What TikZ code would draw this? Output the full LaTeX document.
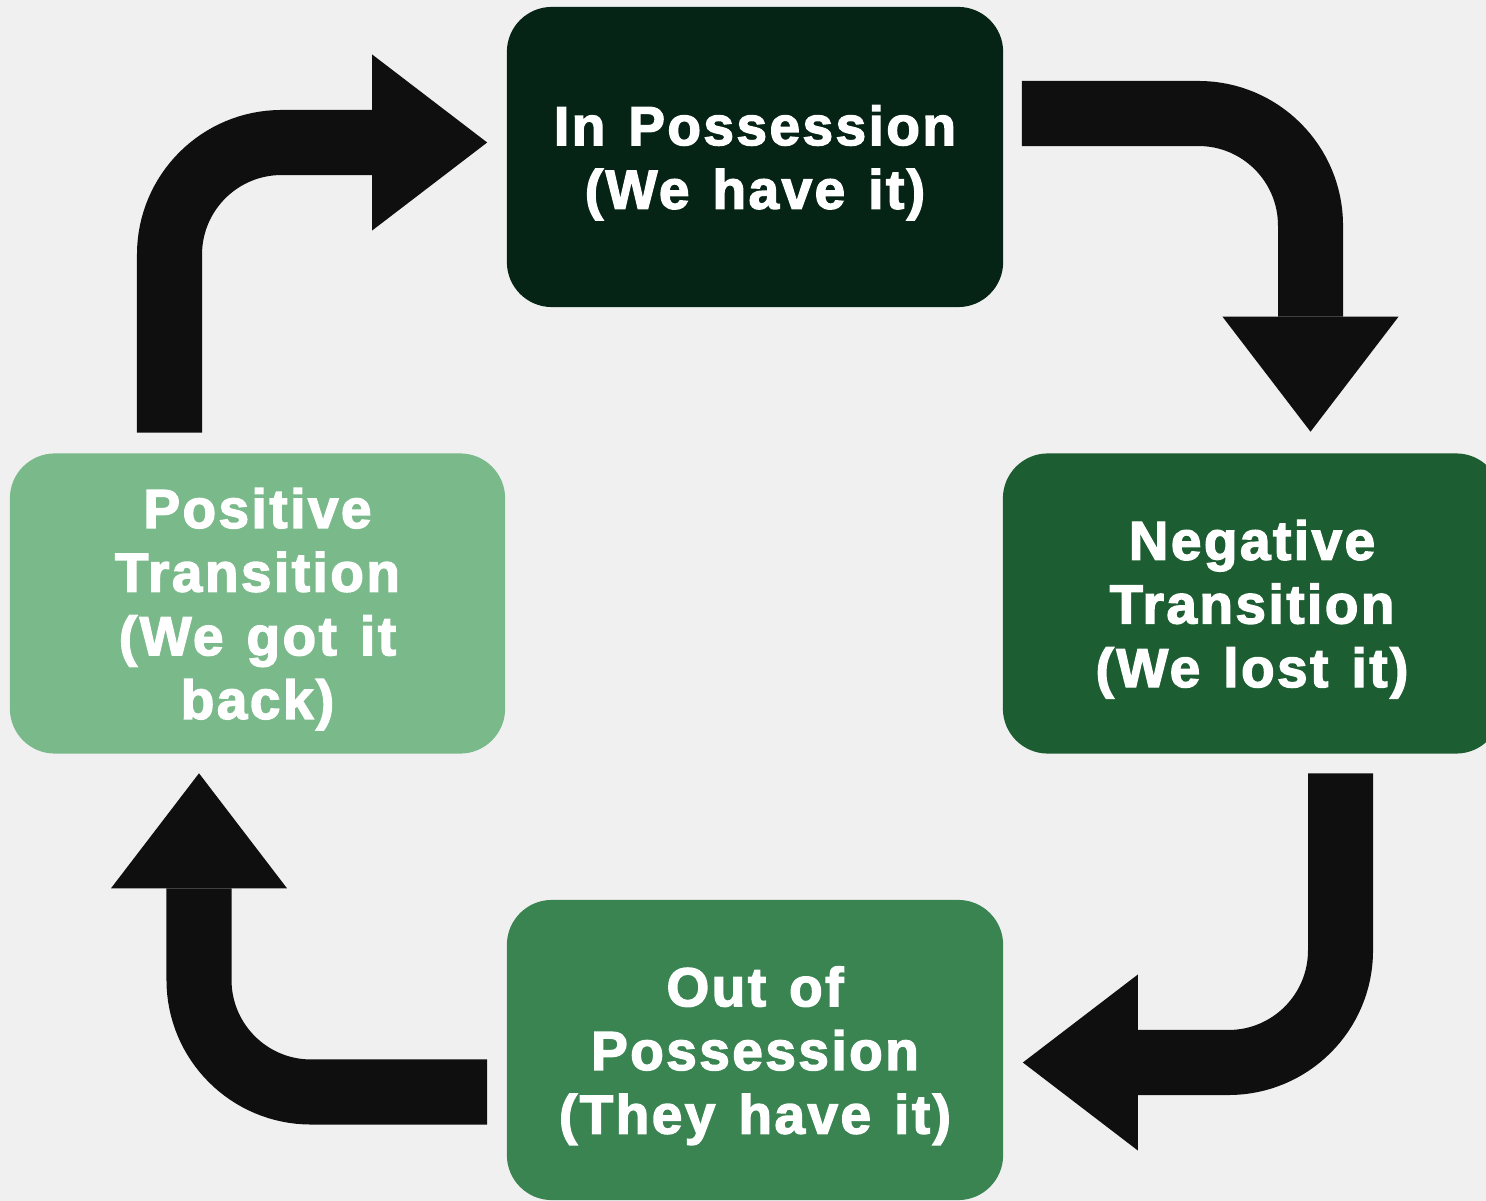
\documentclass[tikz,border=0pt]{standalone}
\usepackage{fontspec}
\newfontfamily\boxfont[FakeBold=2.6,LetterSpace=4.6,WordSpace=1.3]{Liberation Sans Bold}
\usetikzlibrary{arrows.meta}
\definecolor{paper}{RGB}{240,240,241}
\definecolor{inposs}{RGB}{6,36,21}
\definecolor{negtr}{RGB}{28,94,50}
\definecolor{outposs}{RGB}{58,132,82}
\definecolor{postr}{RGB}{122,185,138}
\definecolor{arrowblack}{RGB}{15,15,15}

\begin{document}
\begin{tikzpicture}[x=0.01cm,y=-0.01cm,
  box/.style={rounded corners=0.45cm,minimum width=4.96cm,minimum height=3cm,inner sep=0pt,
    text=white,align=center,text depth=0pt,font=\boxfont\fontsize{15.6pt}{18.1pt}\selectfont},
  turn/.style={draw=arrowblack,line width=0.65cm,rounded corners=1.12cm,
    -{Triangle[width=1.76cm,length=1.15cm,line width=0pt]}}]
\useasboundingbox (0,0) rectangle (1486,1201);
\clip (0,0) rectangle (1486,1201);
\fill[paper] (0,0) rectangle (1486,1201);

% the four phases
\node[box,fill=inposs] (poss) at (755,157) {In Possession\\(We have it)};
\node[box,fill=negtr,minimum width=4.98cm] (neg) at (1252,603.5) {Negative\\Transition\\(We lost it)};
\node[box,fill=outposs] (out) at (755,1050) {Out of\\Possession\\(They have it)};
\node[box,fill=postr,minimum width=4.95cm] (pos) at (257.5,603.5) {Positive\\Transition\\(We got it\\back)};

% turning arrows
\draw[turn] ([shift={(-88,-20)}]pos.north) |- ([shift={(-19,-14.5)}]poss.west);
\draw[turn] ([shift={(18,-43.5)}]poss.east) -| ([shift={(58.5,-21)}]neg.north);
\draw[turn] ([shift={(88.5,19)}]neg.south) |- ([shift={(19,12.5)}]out.east);
\draw[turn] ([shift={(-19,42)}]out.west) -| ([shift={(-58.5,19)}]pos.south);
\end{tikzpicture}
\end{document}
